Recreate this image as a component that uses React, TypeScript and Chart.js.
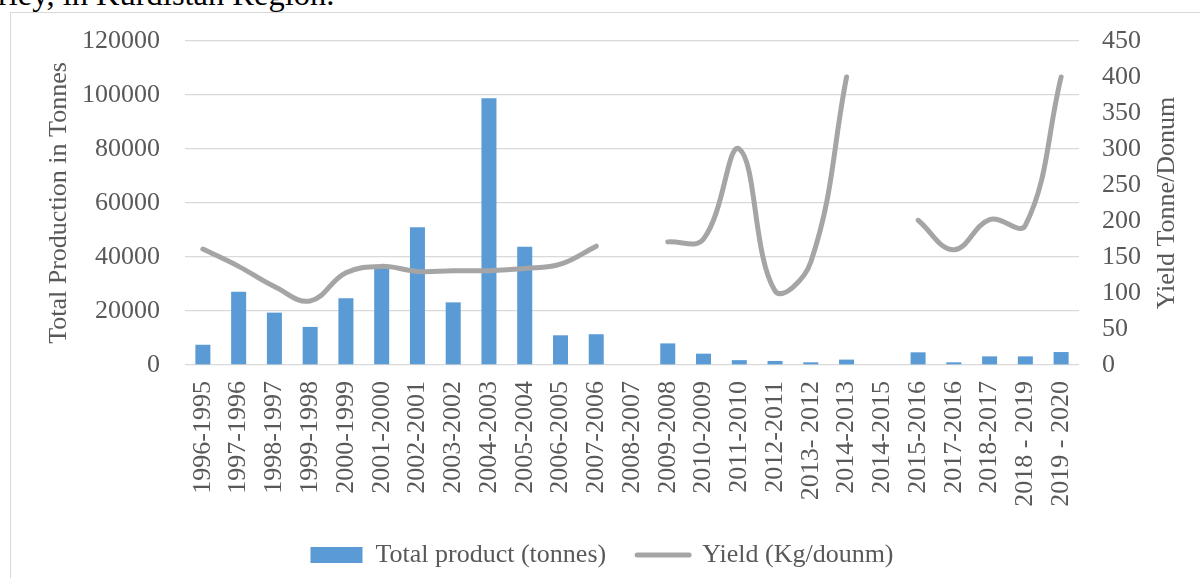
import React, { useEffect, useRef } from "react";
import { Chart, registerables } from "chart.js";

Chart.register(...registerables);

const categories = [
  "1996-1995", "1997-1996", "1998-1997", "1999-1998", "2000-1999",
  "2001-2000", "2002-2001", "2003-2002", "2004-2003", "2005-2004",
  "2006-2005", "2007-2006", "2008-2007", "2009-2008", "2010-2009",
  "2011-2010", "2012-2011", "2013- 2012", "2014-2013", "2014-2015",
  "2015-2016", "2017-2016", "2018-2017", "2018 - 2019", "2019 - 2020",
];

const totalProduct = [
  7500, 27100, 19400, 14100, 24700,
  36000, 51000, 23200, 98800, 43800,
  11000, 11400, null, 8000, 4200,
  1800, 1500, 1000, 2000, null,
  4700, 1000, 3200, 3200, 4800,
];

const yieldValues = [
  161, 137, 109, 89, 128,
  137, 130, 131, 131, 134,
  140, 165, null, 171, 175,
  300, 103, 143, 400, null,
  201, 160, 202, 194, 400,
];

const leftTicks = [0, 20000, 40000, 60000, 80000, 100000, 120000];
const rightTicks = [0, 50, 100, 150, 200, 250, 300, 350, 400, 450];

const seriesNames = ["Total product (tonnes)", "Yield (Kg/dounm)"];
const leftTitle = "Total Production in Tonnes";
const rightTitle = "Yield Tonne/Donum";

const FONT = "'Liberation Serif', 'Times New Roman', serif";
const TEXT = "#595959";
const BLUE = "#5B9BD5";
const GRAY = "#A5A5A5";
const GRID = "#d9d9d9";

export default function App() {
  const ref = useRef<HTMLCanvasElement | null>(null);

  useEffect(() => {
    if (!ref.current) return;
    const rightTitlePlugin = {
      id: "rightTitle",
      afterDraw(chart: any) {
        const ctx = chart.ctx;
        const area = chart.chartArea;
        ctx.save();
        ctx.font = `26px ${FONT}`;
        ctx.fillStyle = TEXT;
        ctx.textAlign = "center";
        ctx.textBaseline = "middle";
        ctx.translate(1167, (area.top + area.bottom) / 2);
        ctx.rotate(-Math.PI / 2);
        ctx.fillText(rightTitle, 0, 0);
        ctx.restore();
      },
    };

    const chart = new Chart(ref.current, {
      type: "bar",
      data: {
        labels: categories,
        datasets: [
          {
            type: "bar",
            label: seriesNames[0],
            data: totalProduct as any,
            backgroundColor: BLUE,
            borderWidth: 0,
            yAxisID: "y",
            order: 2,
            barPercentage: 0.42,
            categoryPercentage: 1,
          },
          {
            type: "line",
            label: seriesNames[1],
            data: yieldValues as any,
            borderColor: GRAY,
            backgroundColor: GRAY,
            borderWidth: 5,
            pointRadius: 0,
            pointHoverRadius: 0,
            tension: 0.4,
            yAxisID: "y1",
            order: 1,
            spanGaps: false,
            borderCapStyle: "round",
            borderJoinStyle: "round",
          } as any,
        ],
      },
      options: {
        responsive: false,
        animation: false,
        layout: { padding: { top: 41, left: 4, right: 0, bottom: 0 } },
        plugins: {
          tooltip: { enabled: false },
          legend: {
            position: "bottom",
            labels: {
              font: { family: FONT, size: 26 },
              color: TEXT,
              usePointStyle: true,
              pointStyleWidth: 52,
              boxHeight: 16,
              padding: 31,
              generateLabels: () => [
                {
                  text: seriesNames[0],
                  fillStyle: BLUE,
                  strokeStyle: BLUE,
                  lineWidth: 0,
                  pointStyle: "rect",
                  hidden: false,
                  datasetIndex: 0,
                  fontColor: TEXT,
                } as any,
                {
                  text: seriesNames[1],
                  fillStyle: GRAY,
                  strokeStyle: GRAY,
                  lineWidth: 5,
                  lineCap: "round",
                  pointStyle: "line",
                  hidden: false,
                  datasetIndex: 1,
                  fontColor: TEXT,
                } as any,
              ],
            },
          },
        },
        scales: {
          x: {
            grid: { display: false, drawTicks: false },
            border: { display: false },
            ticks: {
              font: { family: FONT, size: 26 },
              color: TEXT,
              minRotation: 90,
              maxRotation: 90,
              autoSkip: false,
              padding: 16,
            },
            afterFit: (s: any) => {
              s.height = 146;
            },
          },
          y: {
            position: "left",
            min: 0,
            max: 120000,
            afterBuildTicks: (s: any) => {
              s.ticks = leftTicks.map((v) => ({ value: v }));
            },
            ticks: {
              font: { family: FONT, size: 26 },
              color: TEXT,
              padding: 25,
              callback: (v: any) => String(v),
            },
            grid: { color: GRID, lineWidth: 1.3, drawTicks: false },
            border: { display: false },
            title: {
              display: true,
              text: leftTitle,
              font: { family: FONT, size: 26 },
              color: TEXT,
              padding: { top: 40, bottom: 0 },
            },
            afterFit: (s: any) => {
              s.width = 181;
            },
          },
          y1: {
            position: "right",
            min: 0,
            max: 450,
            afterBuildTicks: (s: any) => {
              s.ticks = rightTicks.map((v) => ({ value: v }));
            },
            ticks: {
              font: { family: FONT, size: 26 },
              color: TEXT,
              padding: 23,
              callback: (v: any) => String(v),
            },
            grid: { display: false, drawTicks: false },
            border: { display: false },
            afterFit: (s: any) => {
              s.width = 121;
            },
          },
        },
      },
      plugins: [rightTitlePlugin],
    });
    return () => chart.destroy();
  }, []);

  return (
    <div style={{ position: "fixed", left: 0, top: 0, width: 1200, height: 578, overflow: "hidden", background: "#fff" }}>
      <div
        style={{
          position: "absolute",
          left: -2,
          top: -22,
          fontFamily: FONT,
          fontSize: 32.5,
          lineHeight: "32px",
          color: "#000",
          whiteSpace: "nowrap",
        }}
      >
        rley, in Kurdistan Region.
      </div>
      <div
        style={{
          position: "absolute",
          left: 10,
          top: 12,
          width: 1300,
          height: 700,
          border: "1px solid #d9d9d9",
        }}
      />
      <canvas
        ref={ref}
        width={1200}
        height={578}
        style={{ position: "absolute", left: 0, top: 0, width: 1200, height: 578 }}
      />
    </div>
  );
}
